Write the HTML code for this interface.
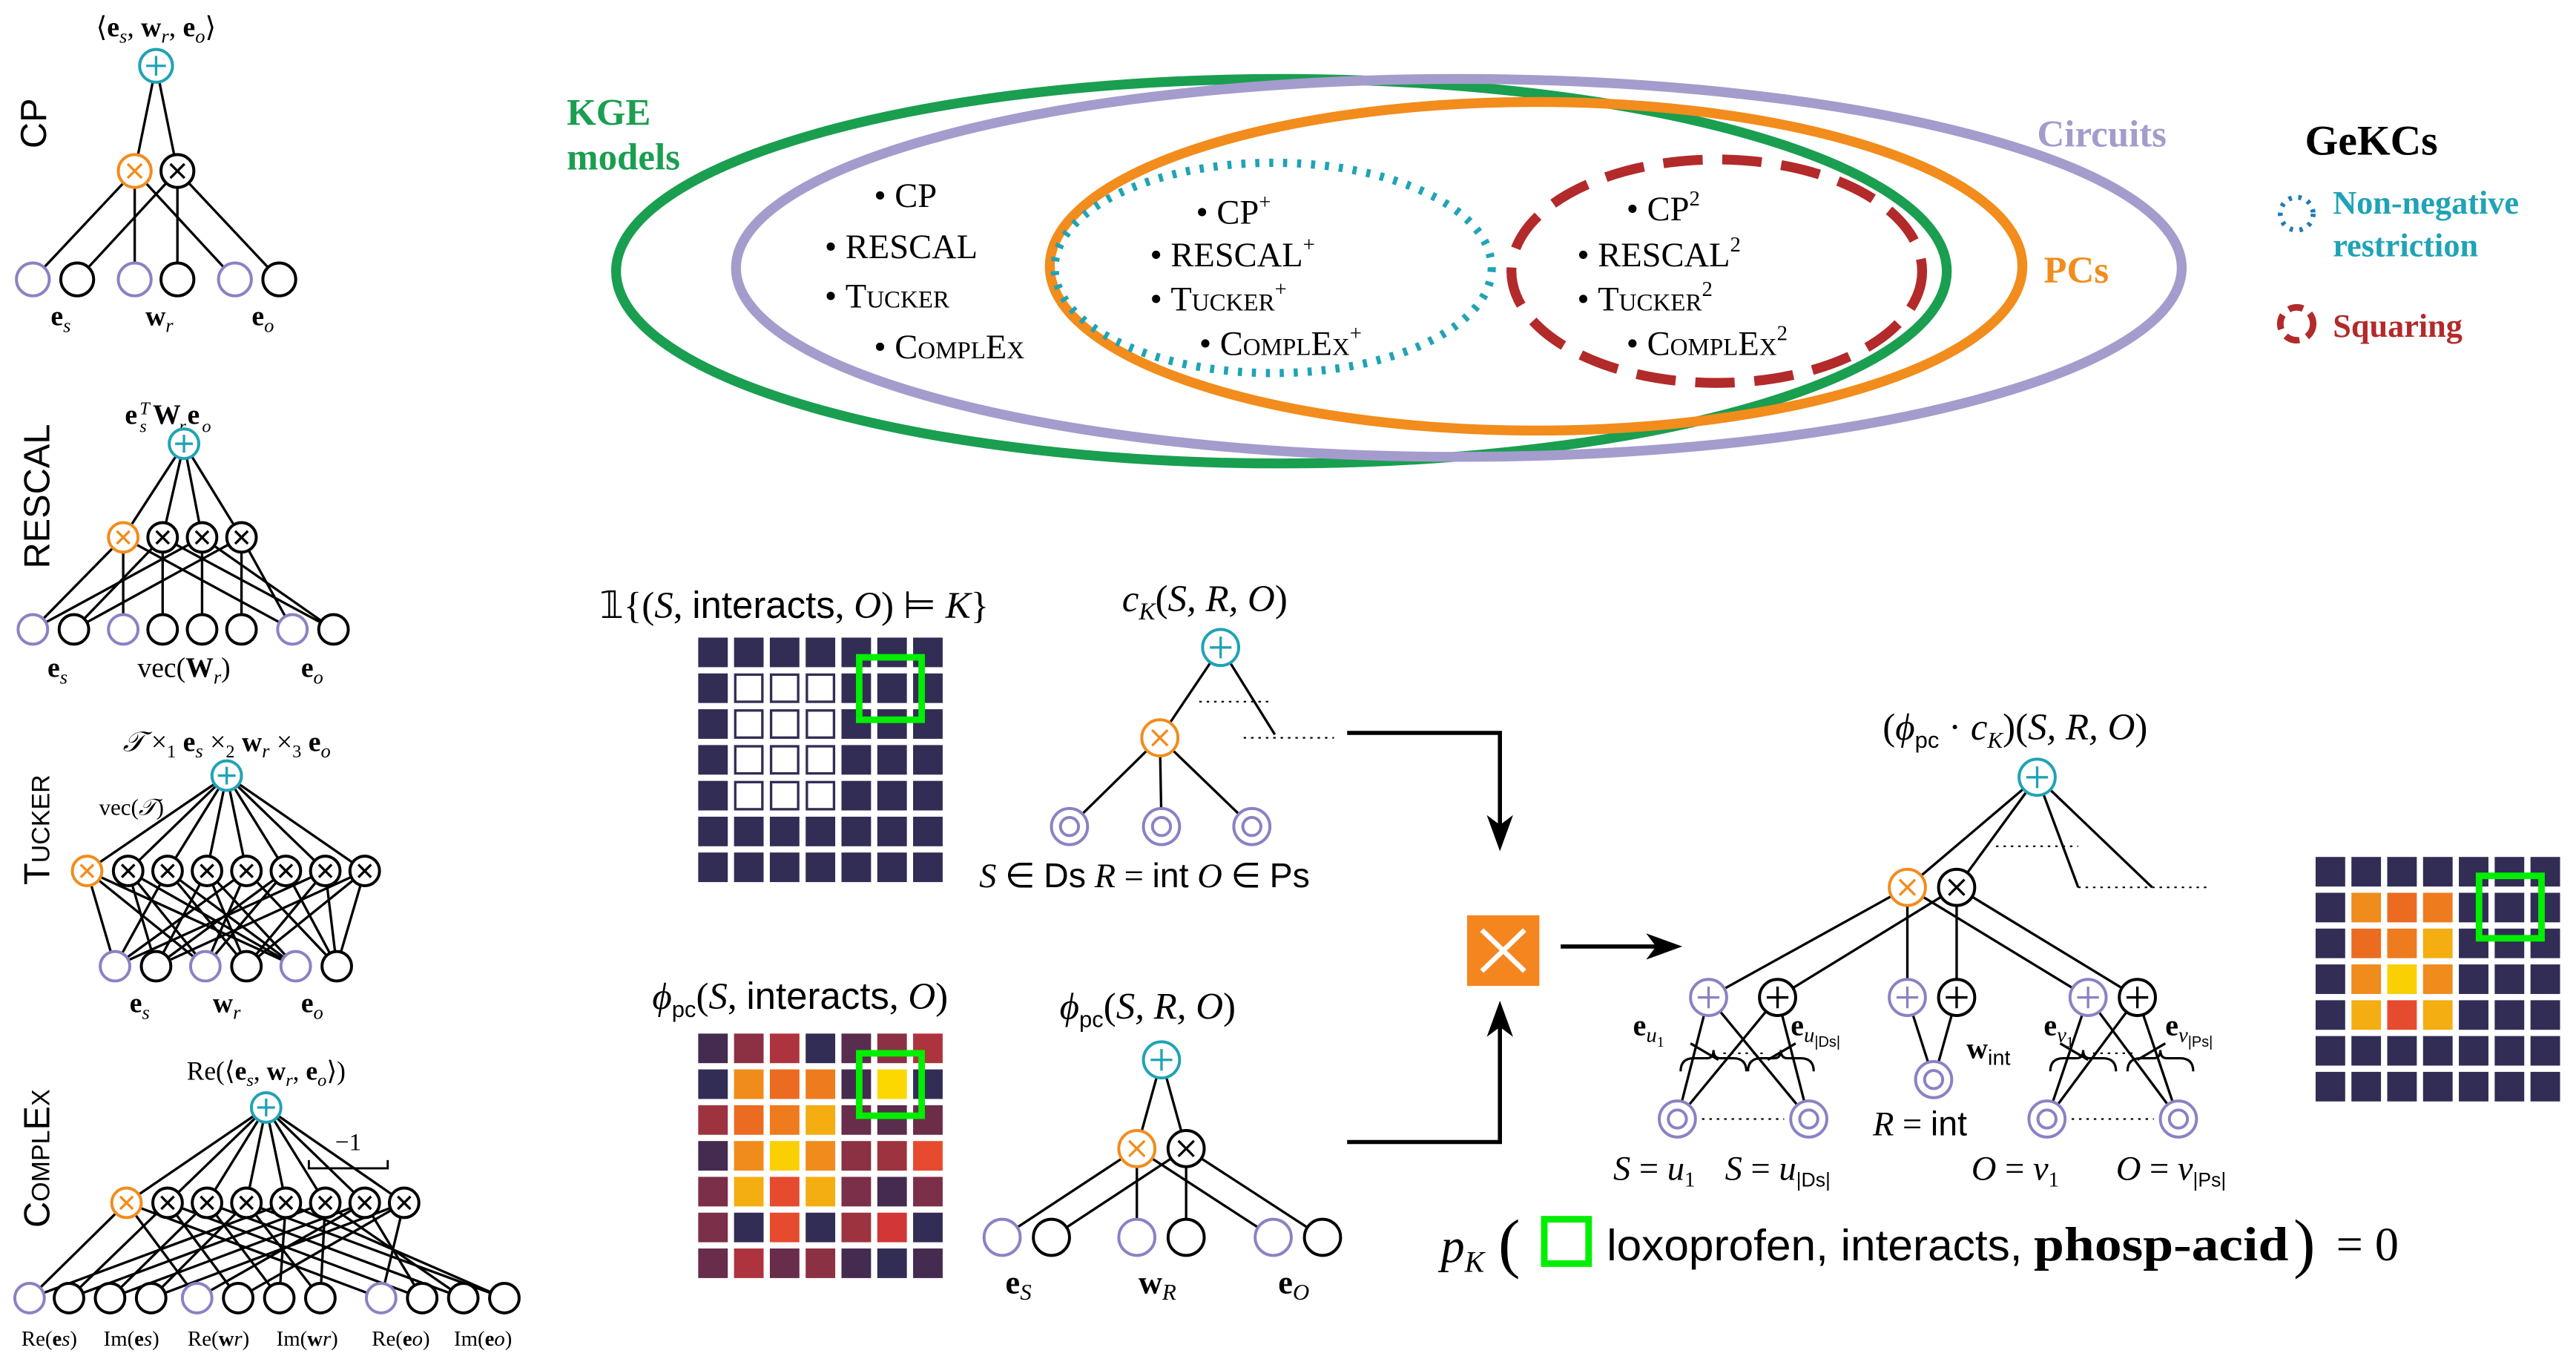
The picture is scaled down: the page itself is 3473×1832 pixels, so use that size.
<!DOCTYPE html>
<html><head><meta charset="utf-8"><style>
html,body{margin:0;padding:0;background:#fff;}
svg{display:block;}
.s{font-family:"Liberation Serif",serif;}
.a{font-family:"Liberation Sans",sans-serif;}
.i{font-style:italic;}
.b{font-weight:bold;}
.sc{font-variant:small-caps;}
</style></head><body>
<svg id="g" xmlns="http://www.w3.org/2000/svg" width="3473" height="1832" viewBox="0 0 1568 827">
<rect width="1568" height="827" fill="#fff"/>
<!-- Venn -->
<g fill="none" stroke-width="6">
<ellipse cx="780" cy="165" rx="405" ry="117" stroke="#1a9e50"/>
<ellipse cx="888" cy="163" rx="440" ry="115" stroke="#a49ccc"/>
<ellipse cx="935" cy="162" rx="296" ry="100" stroke="#f28c1c"/>
<ellipse cx="775" cy="163" rx="133" ry="64" stroke="#1fa3b5" stroke-dasharray="2.5 6" stroke-width="5"/>
<ellipse cx="1045" cy="165" rx="125" ry="68" stroke="#b22a2a" stroke-dasharray="24 12"/>
<circle cx="1398" cy="130" r="10" stroke="#1f7ab5" stroke-width="3" stroke-dasharray="2 4"/>
<circle cx="1398" cy="197" r="10" stroke="#b22a2a" stroke-width="4" stroke-dasharray="9 5"/>
</g>
<g class="s b" font-size="23">
<text x="345" y="76" fill="#1a9e50">KGE</text>
<text x="345" y="103" fill="#1a9e50">models</text>
<text x="1240" y="89" fill="#a49ccc">Circuits</text>
<text x="1244" y="172" fill="#f28c1c">PCs</text>
<text x="1403" y="94" fill="#000" font-size="26">GeKCs</text>
<text x="1420" y="130" fill="#1fa3b5" font-size="20">Non-negative</text>
<text x="1420" y="156" fill="#1fa3b5" font-size="20">restriction</text>
<text x="1420" y="205" fill="#b22a2a" font-size="20">Squaring</text>
</g>
<g class="s" font-size="21">
<text x="532" y="126">• CP</text>
<text x="502" y="157">• RESCAL</text>
<text x="502" y="187">• <tspan class="sc">Tucker</tspan></text>
<text x="532" y="218">• <tspan class="sc">ComplEx</tspan></text>
<text x="728" y="136">• CP<tspan font-size="13" dy="-9">+</tspan></text>
<text x="700" y="162">• RESCAL<tspan font-size="13" dy="-9">+</tspan></text>
<text x="700" y="189">• <tspan class="sc">Tucker</tspan><tspan font-size="13" dy="-9">+</tspan></text>
<text x="730" y="216">• <tspan class="sc">ComplEx</tspan><tspan font-size="13" dy="-9">+</tspan></text>
<text x="990" y="134">• CP<tspan font-size="13" dy="-9">2</tspan></text>
<text x="960" y="162">• RESCAL<tspan font-size="13" dy="-9">2</tspan></text>
<text x="960" y="189">• <tspan class="sc">Tucker</tspan><tspan font-size="13" dy="-9">2</tspan></text>
<text x="990" y="216">• <tspan class="sc">ComplEx</tspan><tspan font-size="13" dy="-9">2</tspan></text>
</g>
<!-- left labels -->
<g class="a" font-size="22">
<text transform="translate(28,75) rotate(-90)" text-anchor="middle">CP</text>
<text transform="translate(30,302) rotate(-90)" text-anchor="middle">RESCAL</text>
<text transform="translate(30,505) rotate(-90)" text-anchor="middle" class="sc">Tucker</text>
<text transform="translate(30,705) rotate(-90)" text-anchor="middle" class="sc">ComplEx</text>
</g>
<g class="s" font-size="17" text-anchor="middle">
<text x="95" y="22">⟨<tspan class="b">e</tspan><tspan class="i" font-size="12" dy="4">s</tspan><tspan dy="-4">, </tspan><tspan class="b">w</tspan><tspan class="i" font-size="12" dy="4">r</tspan><tspan dy="-4">, </tspan><tspan class="b">e</tspan><tspan class="i" font-size="12" dy="4">o</tspan><tspan dy="-4">⟩</tspan></text>
<text x="37" y="198" class="b">e<tspan class="i" font-size="12" dy="4" font-weight="normal">s</tspan></text>
<text x="97" y="198" class="b">w<tspan class="i" font-size="12" dy="4" font-weight="normal">r</tspan></text>
<text x="160" y="198" class="b">e<tspan class="i" font-size="12" dy="4" font-weight="normal">o</tspan></text>
<text x="35" y="412" class="b">e<tspan class="i" font-size="12" dy="4" font-weight="normal">s</tspan></text>
<text x="112" y="412">vec(<tspan class="b">W</tspan><tspan class="i" font-size="12" dy="4">r</tspan><tspan dy="-4">)</tspan></text>
<text x="190" y="412" class="b">e<tspan class="i" font-size="12" dy="4" font-weight="normal">o</tspan></text>
<text x="138" y="457"><tspan class="i">𝒯</tspan> ×<tspan font-size="11" dy="4">1</tspan><tspan dy="-4"> </tspan><tspan class="b">e</tspan><tspan class="i" font-size="12" dy="4">s</tspan><tspan dy="-4"> ×</tspan><tspan font-size="11" dy="4">2</tspan><tspan dy="-4"> </tspan><tspan class="b">w</tspan><tspan class="i" font-size="12" dy="4">r</tspan><tspan dy="-4"> ×</tspan><tspan font-size="11" dy="4">3</tspan><tspan dy="-4"> </tspan><tspan class="b">e</tspan><tspan class="i" font-size="12" dy="4">o</tspan></text>
<text x="80" y="496" font-size="14">vec(<tspan class="i">𝒯</tspan>)</text>
<text x="85" y="616" class="b">e<tspan class="i" font-size="12" dy="4" font-weight="normal">s</tspan></text>
<text x="138" y="616" class="b">w<tspan class="i" font-size="12" dy="4" font-weight="normal">r</tspan></text>
<text x="190" y="616" class="b">e<tspan class="i" font-size="12" dy="4" font-weight="normal">o</tspan></text>
<text x="162" y="657" font-size="16">Re(⟨<tspan class="b">e</tspan><tspan class="i" font-size="11" dy="4">s</tspan><tspan dy="-4">, </tspan><tspan class="b">w</tspan><tspan class="i" font-size="11" dy="4">r</tspan><tspan dy="-4">, </tspan><tspan class="b">e</tspan><tspan class="i" font-size="11" dy="4">o</tspan><tspan dy="-4">⟩)</tspan></text>
<text x="212" y="700" font-size="15">−1</text>
<g font-size="13">
<text x="30" y="819">Re(<tspan class="b">e</tspan><tspan class="i">s</tspan>)</text>
<text x="80" y="819">Im(<tspan class="b">e</tspan><tspan class="i">s</tspan>)</text>
<text x="133" y="819">Re(<tspan class="b">w</tspan><tspan class="i">r</tspan>)</text>
<text x="187" y="819">Im(<tspan class="b">w</tspan><tspan class="i">r</tspan>)</text>
<text x="244" y="819">Re(<tspan class="b">e</tspan><tspan class="i">o</tspan>)</text>
<text x="294" y="819">Im(<tspan class="b">e</tspan><tspan class="i">o</tspan>)</text>
</g>
</g>
<text x="76" y="258" class="s b" font-size="17">e</text>
<text x="85" y="252" class="s i" font-size="11">T</text>
<text x="85" y="263" class="s i" font-size="11">s</text>
<text x="93" y="258" class="s b" font-size="17">W</text>
<text x="109" y="263" class="s i" font-size="11">r</text>
<text x="114" y="258" class="s b" font-size="17">e</text>
<text x="123" y="263" class="s i" font-size="11">o</text>
<path d="M188,706 L188,711 L236,711 L236,706" fill="none" stroke="#000" stroke-width="1.3"/>
<!-- middle titles -->
<g class="s" font-size="23">
<text x="365" y="376">𝟙{(<tspan class="i">S</tspan>, <tspan class="a">interacts</tspan>, <tspan class="i">O</tspan>) ⊨ <tspan class="i">K</tspan>}</text>
<text x="683" y="372"><tspan class="i">c</tspan><tspan class="i" font-size="15" dy="5">K</tspan><tspan dy="-5">(</tspan><tspan class="i">S, R, O</tspan>)</text>
<text x="596" y="540" font-size="21"><tspan class="i">S</tspan> ∈ <tspan class="a">Ds</tspan>  <tspan class="i">R</tspan> = <tspan class="a">int</tspan>  <tspan class="i">O</tspan> ∈ <tspan class="a">Ps</tspan></text>
<text x="397" y="614"><tspan class="i">ϕ</tspan><tspan class="a" font-size="14" dy="5">pc</tspan><tspan dy="-5">(</tspan><tspan class="i">S</tspan>, <tspan class="a">interacts</tspan>, <tspan class="i">O</tspan>)</text>
<text x="645" y="620"><tspan class="i">ϕ</tspan><tspan class="a" font-size="14" dy="5">pc</tspan><tspan dy="-5">(</tspan><tspan class="i">S, R, O</tspan>)</text>
<text x="1146" y="450">(<tspan class="i">ϕ</tspan><tspan class="a" font-size="14" dy="5">pc</tspan><tspan dy="-5"> · </tspan><tspan class="i">c</tspan><tspan class="i" font-size="14" dy="5">K</tspan><tspan dy="-5">)(</tspan><tspan class="i">S, R, O</tspan>)</text>
<text x="612" y="787" class="b" font-size="20">e<tspan class="i" font-size="14" dy="4" font-weight="normal">S</tspan></text>
<text x="693" y="787" class="b" font-size="20">w<tspan class="i" font-size="14" dy="4" font-weight="normal">R</tspan></text>
<text x="778" y="787" class="b" font-size="20">e<tspan class="i" font-size="14" dy="4" font-weight="normal">O</tspan></text>
<g font-size="18" class="b">
<text x="994" y="630">e<tspan class="i" font-size="13" dy="4" font-weight="normal">u</tspan><tspan font-size="9" dy="3" font-weight="normal">1</tspan></text>
<text x="1090" y="630">e<tspan class="i" font-size="13" dy="4" font-weight="normal">u</tspan><tspan class="a" font-size="9" dy="3" font-weight="normal">|Ds|</tspan></text>
<text x="1197" y="644">w<tspan class="a" font-size="13" dy="4" font-weight="normal">int</tspan></text>
<text x="1244" y="630">e<tspan class="i" font-size="13" dy="4" font-weight="normal">v</tspan><tspan font-size="9" dy="3" font-weight="normal">1</tspan></text>
<text x="1318" y="630">e<tspan class="i" font-size="13" dy="4" font-weight="normal">v</tspan><tspan class="a" font-size="9" dy="3" font-weight="normal">|Ps|</tspan></text>
</g>
<text x="1140" y="691" font-size="21"><tspan class="i">R</tspan> = <tspan class="a">int</tspan></text>
<g font-size="21">
<text x="982" y="718"><tspan class="i">S</tspan> = <tspan class="i">u</tspan><tspan font-size="13" dy="4">1</tspan></text>
<text x="1050" y="718"><tspan class="i">S</tspan> = <tspan class="i">u</tspan><tspan class="a" font-size="12" dy="4">|Ds|</tspan></text>
<text x="1200" y="718"><tspan class="i">O</tspan> = <tspan class="i">v</tspan><tspan font-size="13" dy="4">1</tspan></text>
<text x="1288" y="718"><tspan class="i">O</tspan> = <tspan class="i">v</tspan><tspan class="a" font-size="12" dy="4">|Ps|</tspan></text>
</g>
<text x="877" y="768" font-size="29"><tspan class="i">p</tspan><tspan class="i" font-size="18" dy="6">K</tspan></text>
<text x="912" y="770" font-size="40">(</text>
<text x="978" y="767" class="a" font-size="27" textLength="253" lengthAdjust="spacingAndGlyphs">loxoprofen, interacts,</text>
<text x="1238" y="767" class="b" font-size="29" textLength="155" lengthAdjust="spacingAndGlyphs">phosp-acid</text>
<text x="1396" y="770" font-size="40">)</text>
<text x="1422" y="767" font-size="29">= 0</text>
</g>
<rect x="940" y="742" width="27" height="27" fill="none" stroke="#00ee00" stroke-width="4"/>
<g id="dyn"></g>
</svg>
<script>
const NS="http://www.w3.org/2000/svg";const G=document.getElementById('dyn');
function el(t,a){const e=document.createElementNS(NS,t);for(const k in a)e.setAttribute(k,a[k]);G.appendChild(e);return e;}
function L(x1,y1,x2,y2,w,d){el('line',{x1,y1,x2,y2,stroke:'#000','stroke-width':w||1.5,'stroke-dasharray':d||'none'});}
const P='#8a82c4',O='#f28c1c',T='#1fa3b5';
function N(x,y,r,c,t){el('circle',{cx:x,cy:y,r,fill:'#fff',stroke:c,'stroke-width':1.8});const q=r*0.6;
 if(t=='+'){L(x-q,y,x+q,y);L(x,y-q,x,y+q);G.lastChild.setAttribute('stroke',c);G.children[G.children.length-2].setAttribute('stroke',c);}
 else if(t=='x'){const k=q*0.72;L(x-k,y-k,x+k,y+k);L(x-k,y+k,x+k,y-k);G.lastChild.setAttribute('stroke',c);G.children[G.children.length-2].setAttribute('stroke',c);}
 else if(t=='o'){el('circle',{cx:x,cy:y,r:r*0.5,fill:'none',stroke:c,'stroke-width':1.8});}}
function tree(root,prods,py,leaves,ly,conns,r){
 prods.forEach(p=>L(root[0],root[1],p,py));
 conns.forEach((c,i)=>c.forEach(j=>L(prods[i],py,leaves[j][0],ly)));
 N(root[0],root[1],r,T,'+');
 prods.forEach((p,i)=>N(p,py,r,i==0?O:'#000','x'));
 leaves.forEach(l=>N(l[0],ly,r,l[1],l[2]||''));}
tree([95,40],[82,108],104,[[20,P],[47,'#000'],[82,P],[108,'#000'],[143,P],[170,'#000']],170,[[0,2,4],[1,3,5]],10);
tree([112,270],[75,99,123,147],327,[[20,P],[45,'#000'],[75,P],[99,'#000'],[123,'#000'],[147,'#000'],[178,P],[203,'#000']],383,[[0,2,6],[1,3,7],[0,4,7],[1,5,6]],9);
{const c=[];for(let m=0;m<8;m++)c.push([(m&1)?1:0,(m&2)?3:2,(m&4)?5:4]);
tree([138,472],[53,78,102,126,150,174,198,222],530,[[70,P],[95,'#000'],[125,P],[150,'#000'],[180,P],[205,'#000']],588,c,9);}
{const lv=[[18,P],[42,'#000'],[67,'#000'],[92,'#000'],[120,P],[145,'#000'],[170,'#000'],[195,'#000'],[232,P],[257,'#000'],[282,'#000'],[307,'#000']];
const c=[[0,4,8],[1,5,9],[2,6,10],[3,7,11],[0,6,11],[1,7,10],[2,4,9],[3,5,8]];
tree([162,674],[77,102,126,150,174,198,222,246],732,lv,790,c,9);}
L(743,394,706,449);L(743,394,776,447);L(730,427,775,427,1,'1.5 3');L(757,449,812,449,1,'1.5 3');
[651,707,762].forEach(x=>L(706,449,x,503));N(743,394,11,T,'+');N(706,449,11,O,'x');
[651,707,762].forEach(x=>N(x,503,11,P,'o'));
tree([707,645],[692,722],699,[[610,P],[640,'#000'],[692,P],[722,'#000'],[775,P],[805,'#000']],753,[[0,2,4],[1,3,5]],11);
L(1240,473,1161,540);L(1240,473,1191,540);L(1240,473,1265,540);L(1240,473,1310,540);
L(1215,515,1265,515,1,'1.5 3');L(1265,540,1345,540,1,'1.5 3');
[[1161,[1040,1161,1271]],[1191,[1082,1191,1301]]].forEach(a=>a[1].forEach(x=>L(a[0],540,x,607)));
[[1040,1082,1021,1101],[1271,1301,1246,1326]].forEach(a=>{[a[0],a[1]].forEach(s=>{L(s,607,a[2],681);L(s,607,a[3],681);});
 L(a[2]+28,641,a[3]-28,641,1,'1.5 3');L(a[2]+8,635,a[2]+25,645);L(a[3]-8,635,a[3]-25,645);
 el('path',{d:`M${a[2]+2},652 q0,-8 8,-8 h8 q4,0 4,-5 q0,5 4,5 h8 q8,0 8,8 M${a[0]+24},652 q0,-8 8,-8 h8 q4,0 4,-5 q0,5 4,5 h8 q8,0 8,8`,fill:'none',stroke:'#000','stroke-width':1.4});
 L(a[2]+15,681,a[3]-15,681,1,'1.5 3');});
[1161,1191].forEach(s=>L(s,607,1177,657));
N(1240,473,11,T,'+');N(1161,540,11,O,'x');N(1191,540,11,'#000','x');
[[1040,P],[1082,'#000'],[1161,P],[1191,'#000'],[1271,P],[1301,'#000']].forEach(a=>N(a[0],607,11,a[1],'+'));
[[1021,681],[1101,681],[1177,657],[1246,681],[1326,681]].forEach(a=>N(a[0],a[1],11,P,'o'));
function arrowhead(x,y,dir){const d={d:`M${x},${y} l-8,-22 l8,6 l8,-6z`,r:`M${x},${y} l-22,-8 l6,8 l-6,8z`,u:`M${x},${y} l-8,22 l8,-6 l8,6z`}[dir];el('path',{d,fill:'#000'});}
el('polyline',{points:'820,446 913,446 913,505',fill:'none',stroke:'#000','stroke-width':2.5});arrowhead(913,518,'d');
el('polyline',{points:'820,695 913,695 913,622',fill:'none',stroke:'#000','stroke-width':2.5});arrowhead(913,609,'u');
L(950,576,1010,576,2.5);arrowhead(1024,576,'r');
el('rect',{x:893,y:557,width:44,height:43,fill:'#f5861f'});
el('line',{x1:902,y1:566,x2:928,y2:591,stroke:'#fff','stroke-width':3});el('line',{x1:928,y1:566,x2:902,y2:591,stroke:'#fff','stroke-width':3});
const NV='#322d55';
function grid(x0,y0,f){for(let r=0;r<7;r++)for(let c=0;c<7;c++){const s=f(r,c);const a={x:x0+c*21.8,y:y0+r*21.8,width:18,height:18,fill:s};if(s=='#fff'){a.stroke=NV;a['stroke-width']=1.5;a.x+=0.75;a.y+=0.75;a.width=16.5;a.height=16.5;}el('rect',a);}}
grid(425,388,(r,c)=>(r>=1&&r<=4&&c>=1&&c<=3)?'#fff':NV);
const H=[['#452b50','#8c3044','#ad343e','#322d55','#582d4e','#8c3044','#ad343e'],
['#322d55','#ef8c1c','#eb6b21','#ee7b1e','#452b50','#fcd800','#322d55'],
['#9e3340','#eb6b21','#ee7b1e','#f4ae12','#672d4b','#582d4e','#6b2d4a'],
['#452b50','#ef8c1c','#fad004','#ef8c1c','#8c3044','#9e3340','#e64a2f'],
['#7b2f48','#f4ae12','#e64a2f','#f4ae12','#7b2f48','#452b50','#7b2f48'],
['#7b2f48','#322d55','#e64a2f','#322d55','#9e3340','#d23636','#322d55'],
['#672d4b','#ad343e','#672d4b','#8c3044','#452b50','#322d55','#452b50']];
grid(425,629,(r,c)=>H[r][c]);
grid(1409.5,521.5,(r,c)=>(r>=1&&r<=4&&c>=1&&c<=3)?H[r][c]:NV);
[[523,400],[523,641],[1509,533]].forEach(p=>el('rect',{x:p[0],y:p[1],width:38,height:38,fill:'none',stroke:'#00ee00','stroke-width':4}));
</script>
</body></html>
